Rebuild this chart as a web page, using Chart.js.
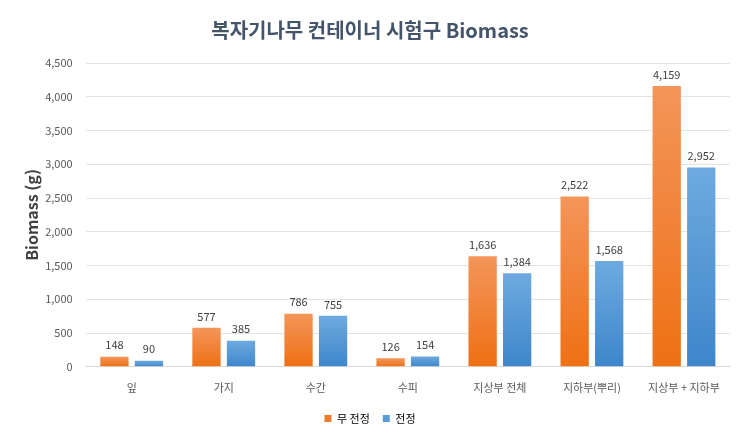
<!DOCTYPE html>
<html>
<head>
<meta charset="utf-8">
<script src="https://cdn.jsdelivr.net/npm/chart.js@4/dist/chart.umd.min.js"></script>
<style>
  html, body { margin: 0; padding: 0; background: #ffffff; }
  #wrap { width: 742px; height: 434px; }
</style>
</head>
<body>
<div id="wrap"><canvas id="biomassChart"></canvas></div>
<script>
const categories = ["잎", "가지", "수간", "수피", "지상부 전체", "지하부(뿌리)", "지상부 + 지하부"];
const noPruning = [148, 577, 786, 126, 1636, 2522, 4159];
const pruning = [90, 385, 755, 154, 1384, 1568, 2952];
const seriesNames = ["무 전정", "전정"];

const FONT = "'Noto Sans CJK KR', 'Noto Sans', sans-serif";

// gradient runs from each bar's top down to its base
function barGradient(c, top, bottom) {
  const chart = c.chart;
  const y = chart.scales && chart.scales.y;
  if (!chart.chartArea || !y || c.parsed === undefined) return bottom;
  const yTop = y.getPixelForValue(c.parsed.y);
  const yBase = y.getPixelForValue(0);
  const g = chart.ctx.createLinearGradient(0, yTop, 0, yBase);
  g.addColorStop(0, top);
  g.addColorStop(1, bottom);
  return g;
}

const valueLabelPlugin = {
  id: "valuelabels",
  afterDatasetsDraw(chart) {
    const { ctx } = chart;
    ctx.save();
    ctx.font = `11px ${FONT}`;
    ctx.fillStyle = "#404040";
    ctx.textAlign = "center";
    ctx.textBaseline = "bottom";
    chart.data.datasets.forEach((ds, i) => {
      chart.getDatasetMeta(i).data.forEach((bar, j) => {
        ctx.fillText(ds.data[j].toLocaleString("en-US"), bar.x, bar.y - 6);
      });
    });
    ctx.restore();
  },
};

const ctx = document.getElementById("biomassChart").getContext("2d");
const biomassChart = new Chart(ctx, {
  type: "bar",
  data: {
    labels: categories,
    datasets: [
      {
        label: seriesNames[0],
        data: noPruning,
        backgroundColor: (c) => barGradient(c, "#f4955a", "#ee7014"),
        borderWidth: 0,
      },
      {
        label: seriesNames[1],
        data: pruning,
        backgroundColor: (c) => barGradient(c, "#6eaae0", "#3d86cb"),
        borderWidth: 0,
      },
    ],
  },
  options: {
    responsive: true,
    maintainAspectRatio: false,
    animation: false,
    categoryPercentage: 0.75,
    barPercentage: 0.82,
    layout: { padding: { left: 10, right: 12, top: 6, bottom: 0 } },
    scales: {
      x: {
        grid: { display: false },
        border: { color: "#d9d9d9" },
        ticks: { color: "#595959", font: { family: FONT, size: 11 }, padding: 6 },
      },
      y: {
        min: 0,
        max: 4500,
        border: { display: false },
        grid: { color: "#e3e3e3", drawTicks: false },
        ticks: {
          stepSize: 500,
          color: "#595959",
          font: { family: FONT, size: 11 },
          padding: 13,
          callback: (v) => v.toLocaleString("en-US"),
        },
        title: {
          display: true,
          text: "Biomass (g)",
          color: "#404040",
          font: { family: FONT, size: 16, weight: "bold" },
          padding: { top: 12, bottom: -9 },
        },
      },
    },
    plugins: {
      title: {
        display: true,
        text: "복자기나무 컨테이너 시험구 Biomass",
        color: "#44546a",
        font: { family: FONT, size: 20, weight: "bold" },
        padding: { top: 12, bottom: 21 },
      },
      legend: {
        display: true,
        position: "bottom",
        labels: {
          boxWidth: 7,
          boxHeight: 7,
          color: "#595959",
          font: { family: FONT, size: 11 },
          padding: 13,
          generateLabels: (chart) =>
            chart.data.datasets.map((ds, i) => ({
              text: ds.label,
              fillStyle: i === 0 ? "#ee7a2a" : "#5b9bd5",
              strokeStyle: "transparent",
              lineWidth: 0,
              datasetIndex: i,
            })),
        },
      },
      tooltip: { enabled: false },
    },
  },
  plugins: [valueLabelPlugin],
});
</script>
</body>
</html>
